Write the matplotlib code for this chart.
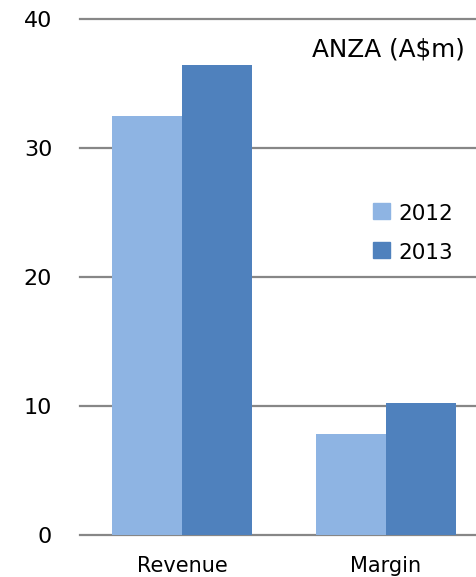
import matplotlib
matplotlib.use("Agg")
import matplotlib.pyplot as plt
import numpy as np
from matplotlib.patches import Rectangle

categories = ["Revenue", "Margin"]
series_names = ["2012", "2013"]
values_2012 = [32.5, 7.8]
values_2013 = [36.4, 10.2]
yticks = [0, 10, 20, 30, 40]
title = "ANZA (A$m)"

c2012 = "#8EB4E3"
c2013 = "#4F81BD"
grid_color = "#878787"

plt.rcParams["font.family"] = ["DejaVu Sans"]

W, H = 476, 577
fig = plt.figure(figsize=(W / 100, H / 100), dpi=100)
# plot area runs past the right edge of the figure
left, right = 80, 488
bottom, top = 535, 19
ax = fig.add_axes([left / W, 1 - bottom / H, (right - left) / W, (bottom - top) / H])

x = np.arange(len(categories))
bw = 0.345
ax.bar(x - bw / 2, values_2012, bw, color=c2012, zorder=3)
ax.bar(x + bw / 2, values_2013, bw, color=c2013, zorder=3)

ax.set_xlim(-0.5, len(categories) - 0.5)
ax.set_ylim(0, 40)
ax.set_yticks(yticks)
ax.set_yticklabels([str(t) for t in yticks], fontsize=16)
ax.set_xticks(x)
ax.set_xticklabels(categories, fontsize=15)
ax.tick_params(axis="y", length=0, pad=20)
ax.tick_params(axis="x", length=0, pad=15)
for s in ax.spines.values():
    s.set_visible(False)
ax.grid(axis="y", color=grid_color, linewidth=1.6, zorder=0)
for gl in ax.get_ygridlines():
    gl.set_clip_on(False)
ax.set_axisbelow(True)

fig.text(312 / W, 1 - 57 / H, title, fontsize=17.8, ha="left", va="baseline")

# legend: colour swatches with year labels
colors = [c2012, c2013]
for i, (name, col) in enumerate(zip(series_names, colors)):
    y_top = 203 + i * 39
    fig.patches.append(Rectangle((373 / W, 1 - (y_top + 16) / H), 17 / W, 16 / H,
                                 transform=fig.transFigure, color=col))
    fig.text(398 / W, 1 - (y_top + 17) / H, name, fontsize=15.5,
             ha="left", va="baseline")

fig.savefig("out.png", dpi=100)
